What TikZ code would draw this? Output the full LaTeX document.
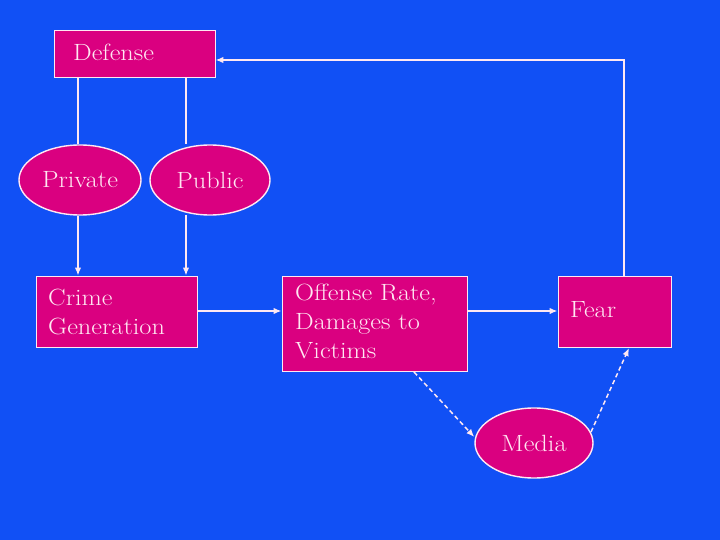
\documentclass[tikz,border=0pt]{standalone}
\usepackage{fontspec}
\setmainfont{Latin Modern Roman}[FakeStretch=1.12]
\usetikzlibrary{arrows.meta,shapes.geometric}
\definecolor{bg}{RGB}{17,80,245}
\definecolor{mag}{RGB}{218,0,128}
\definecolor{txt}{RGB}{255,232,242}
\tikzset{
  lbl/.style={text=txt,font=\fontsize{23.5}{29}\selectfont,inner sep=0pt},
  box/.style={draw=txt,line width=0.9pt,fill=mag,inner sep=0pt},
  oval/.style={ellipse,draw=txt,line width=1.4pt,fill=mag,lbl},
  conn/.style={draw=txt,line width=1.5pt},
  arr/.style={conn,-{Latex[length=8pt,width=6.5pt]}},
  darr/.style={arr,dash pattern=on 4.5pt off 3pt}
}
\begin{document}
\begin{tikzpicture}[x=1pt,y=-1pt]
\fill[bg] (0,0) rectangle (720,540);
\useasboundingbox (0,0) rectangle (720,540);
% boxes
\node[box,minimum width=161pt,minimum height=47pt] (def) at (134.5,53.5) {};
\node[lbl,anchor=west] (deft) at (73,52) {Defense};
\node[oval,minimum width=122pt,minimum height=70pt] (priv) at (80,180) {Private};
\node[oval,minimum width=120pt,minimum height=70pt] (pub) at (210,180) {Public};
\node[box,minimum width=161pt,minimum height=71pt] (crime) at (116.5,311.5) {};
\node[lbl,anchor=west,align=left] (crimet) at (48,312) {Crime\\Generation};
\node[box,minimum width=185pt,minimum height=95pt] (off) at (374.5,323.5) {};
\node[lbl,anchor=west,align=left] (offt) at (295,321) {Offense Rate,\\Damages to\\Victims};
\node[box,minimum width=113pt,minimum height=71pt] (fear) at (614.5,311.5) {};
\node[lbl,anchor=west] (feart) at (570,310) {Fear};
\node[oval,minimum width=118pt,minimum height=70pt] (media) at (534,443) {Media};
% connectors
\draw[conn] (def.south -| 78,0) -- (priv.north -| 78,0);
\draw[conn] (def.south -| 186,0) -- (pub.north -| 186,0);
\draw[arr] (priv.south -| 78,0) -- (crime.north -| 78,0);
\draw[arr] (186,215) -- (crime.north -| 186,0);
\draw[arr] (crime.east |- 0,311) -- (off.west |- 0,311);
\draw[arr] (off.east |- 0,311) -- (fear.west |- 0,311);
\coordinate (corner) at (624,60);
\draw[arr] (fear.north -| 624,0) -- (corner) -- (def.east |- 0,60);
\draw[darr] (414,372) -- (media.west |- 0,437);
\draw[darr] (591,432) -- (629,348);
\end{tikzpicture}
\end{document}
